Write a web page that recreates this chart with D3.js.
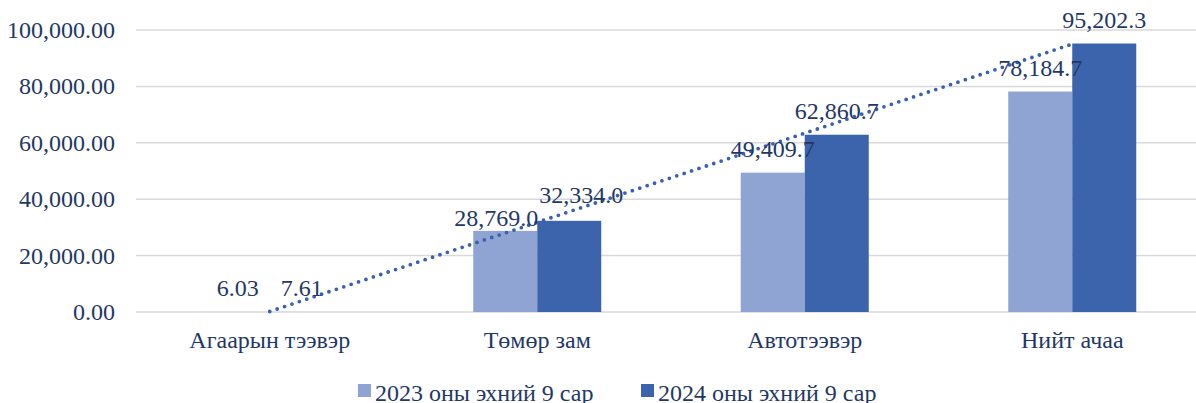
<!DOCTYPE html>
<html><head><meta charset="utf-8">
<script src="https://cdn.jsdelivr.net/npm/d3@7/dist/d3.min.js"></script>
<style>
html,body{margin:0;padding:0;background:#fff;}
svg text{font-family:"Liberation Serif","DejaVu Serif","Times New Roman",serif;}
</style></head>
<body>
<svg id="chart" width="1196" height="403"></svg>
<script>
const categories = ["Агаарын тээвэр", "Төмөр зам", "Автотээвэр", "Нийт ачаа"];
const seriesNames = ["2023 оны эхний 9 сар", "2024 оны эхний 9 сар"];
const values2023 = [6.03, 28769.0, 49409.7, 78184.7];
const values2024 = [7.61, 32334.0, 62860.7, 95202.3];
const labels2023 = ["6.03", "28,769.0", "49,409.7", "78,184.7"];
const labels2024 = ["7.61", "32,334.0", "62,860.7", "95,202.3"];
const yTicks = [0, 20000, 40000, 60000, 80000, 100000];

// layout / style (not data)
const colors = ["#8FA4D3", "#3C64AC"];
const textColor = "#1F3864";
const fontSize = 24;
const serif = '"Liberation Serif", "DejaVu Serif", "Times New Roman", serif';
// manual nudges of a few data labels, as in the reference
const labelNudge = {"1-0": {dx: -9, dy: 11}, "1-1": {dx: 12, dy: -2}};

const svg = d3.select("#chart");
const plot = {left: 136, right: 1206, top: 30, bottom: 312};

const y = d3.scaleLinear().domain([0, 100000]).range([plot.bottom, plot.top]);
const x0 = d3.scaleBand().domain(categories).range([plot.left, plot.right])
  .paddingInner(0.5215).paddingOuter(0.26075);
const x1 = d3.scaleBand().domain([0, 1]).range([0, x0.bandwidth()]);

// gridlines
svg.append("g").selectAll("line").data(yTicks).join("line")
  .attr("x1", plot.left).attr("x2", 1196)
  .attr("y1", d => y(d)).attr("y2", d => y(d))
  .attr("stroke", "#D9D9D9").attr("stroke-width", 1.5);

// y axis labels
const fmt = d3.format(",.2f");
svg.append("g").selectAll("text").data(yTicks).join("text")
  .attr("x", 115).attr("y", d => y(d) + 8)
  .attr("text-anchor", "end").attr("font-family", serif).attr("font-size", fontSize).attr("fill", textColor)
  .text(d => fmt(d));

// bars
const rows = categories.map((c, i) => ({c, i, vals: [values2023[i], values2024[i]], labs: [labels2023[i], labels2024[i]]}));
const groups = svg.append("g").selectAll("g").data(rows).join("g")
  .attr("transform", d => `translate(${x0(d.c)},0)`);
groups.selectAll("rect").data(d => d.vals.map((v, s) => ({v, s}))).join("rect")
  .attr("x", d => x1(d.s)).attr("width", x1.bandwidth())
  .attr("y", d => y(d.v)).attr("height", d => y(0) - y(d.v))
  .attr("fill", d => colors[d.s]);

// category labels
svg.append("g").selectAll("text").data(categories).join("text")
  .attr("x", d => x0(d) + x0.bandwidth() / 2).attr("y", 348)
  .attr("text-anchor", "middle").attr("font-family", serif).attr("font-size", fontSize).attr("fill", textColor)
  .text(d => d);

// trendline (linear, 2024 series)
const n = values2024.length;
const xs = d3.range(1, n + 1);
const mx = d3.mean(xs), my = d3.mean(values2024);
const slope = d3.sum(xs.map((xv, i) => (xv - mx) * (values2024[i] - my))) / d3.sum(xs.map(xv => (xv - mx) ** 2));
const icpt = my - slope * mx;
const trendPts = [1, n].map(k => [x0(categories[k - 1]) + x0.bandwidth() / 2, y(icpt + slope * k)]);
svg.append("path").attr("d", d3.line()(trendPts))
  .attr("fill", "none").attr("stroke", "#3A62AC").attr("stroke-width", 3.8)
  .attr("stroke-linecap", "round").attr("stroke-dasharray", "0 7.8");

// data labels
const labData = [];
rows.forEach(r => r.vals.forEach((v, s) => {
  const nudge = labelNudge[r.i + "-" + s] || {dx: 0, dy: 0};
  labData.push({x: x0(r.c) + x1(s) + x1.bandwidth() / 2 + nudge.dx, y: y(v) - 16 + nudge.dy, t: r.labs[s]});
}));
svg.append("g").selectAll("text").data(labData).join("text")
  .attr("x", d => d.x).attr("y", d => d.y)
  .attr("text-anchor", "middle").attr("font-family", serif).attr("font-size", fontSize).attr("fill", textColor)
  .text(d => d.t);

// legend
const legX = [358, 641];
const leg = svg.append("g").selectAll("g").data(seriesNames).join("g")
  .attr("transform", (d, i) => `translate(${legX[i]},0)`);
leg.append("rect").attr("x", 0).attr("y", 384).attr("width", 13).attr("height", 13)
  .attr("fill", (d, i) => colors[i]);
leg.append("text").attr("x", 17).attr("y", 401)
  .attr("font-family", serif).attr("font-size", fontSize).attr("fill", textColor).text(d => d);
</script>
</body></html>
